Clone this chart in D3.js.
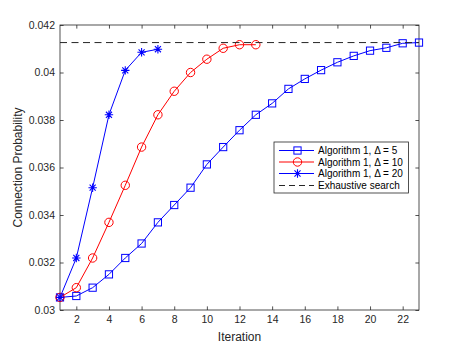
<!DOCTYPE html>
<html><head><meta charset="utf-8">
<script src="https://cdn.jsdelivr.net/npm/d3@7"></script>
<style>body{margin:0;background:#fff}svg{display:block}text{font-family:"Liberation Sans",Arial,sans-serif}</style>
</head><body>
<script>
const iter5 = d3.range(1, 24);
const prob5 = [0.03053,0.03059,0.03094,0.0315,0.03219,0.0328,0.03369,0.03442,0.03515,0.03613,0.03686,0.03757,0.03822,0.0387,0.03931,0.03973,0.0401,0.04043,0.0407,0.04092,0.04104,0.04123,0.04126];
const iter10 = d3.range(1, 14);
const prob10 = [0.03053,0.03094,0.03219,0.03369,0.03525,0.03686,0.03822,0.03921,0.04,0.04056,0.04102,0.04117,0.04117];
const iter20 = d3.range(1, 8);
const prob20 = [0.03053,0.03219,0.03515,0.03822,0.04009,0.04085,0.04098];
const exhaustive = 0.04126;
const xTicks = [2,4,6,8,10,12,14,16,18,20,22];
const yTicks = [0.03,0.032,0.034,0.036,0.038,0.04,0.042];
const legendLabels = ["Algorithm 1, \u0394 = 5","Algorithm 1, \u0394 = 10","Algorithm 1, \u0394 = 20","Exhaustive search"];

const W = 463, H = 348;
const L = 60, R = 419, T = 25, B = 310;
const axisColor = "#262626";
const svg = d3.select("body").append("svg").attr("width", W).attr("height", H);

const x = d3.scaleLinear().domain([1, 23]).range([L, R]);
const y = d3.scaleLinear().domain([0.03, 0.042]).range([B, T]);

svg.append("rect").attr("x", L).attr("y", T).attr("width", R - L).attr("height", B - T).attr("fill", "#fff");

// axes
const tl = 3.6;
const gx = svg.append("g").attr("transform", `translate(0,${B})`)
  .call(d3.axisBottom(x).tickValues(xTicks).tickSize(-tl).tickPadding(6).tickFormat(d3.format("d")));
const gxt = svg.append("g").attr("transform", `translate(0,${T})`)
  .call(d3.axisTop(x).tickValues(xTicks).tickSize(-tl).tickFormat(""));
const gy = svg.append("g").attr("transform", `translate(${L},0)`)
  .call(d3.axisLeft(y).tickValues(yTicks).tickSize(-tl).tickPadding(5).tickFormat(d => d3.format("")(+d.toFixed(3))));
const gyr = svg.append("g").attr("transform", `translate(${R},0)`)
  .call(d3.axisRight(y).tickValues(yTicks).tickSize(-tl).tickFormat(""));
[gx, gxt, gy, gyr].forEach(g => {
  g.select(".domain").remove();
  g.selectAll("line").attr("stroke", axisColor).attr("stroke-width", 0.8);
  g.selectAll("text").attr("fill", axisColor).attr("font-size", 10.5).attr("font-family", '"Liberation Sans",Arial,sans-serif');
});
gx.selectAll("text").attr("dy", "0.71em");
svg.append("rect").attr("x", L).attr("y", T).attr("width", R - L).attr("height", B - T)
  .attr("fill", "none").attr("stroke", axisColor).attr("stroke-width", 0.8);

// labels
svg.append("text").attr("x", (L + R) / 2).attr("y", 341).attr("text-anchor", "middle")
  .attr("font-size", 12).attr("fill", axisColor).text("Iteration");
svg.append("text").attr("transform", `translate(22,${(T + B) / 2}) rotate(-90)`).attr("text-anchor", "middle")
  .attr("font-size", 12).attr("fill", axisColor).text("Connection Probability");

const line = d3.line().x(d => x(d[0])).y(d => y(d[1]));

function drawMarker(g, type, cx, cy, color) {
  if (type === "square") {
    g.append("rect").attr("x", cx - 3.6).attr("y", cy - 3.6).attr("width", 7.2).attr("height", 7.2)
      .attr("fill", "none").attr("stroke", color).attr("stroke-width", 1);
  } else if (type === "circle") {
    g.append("circle").attr("cx", cx).attr("cy", cy).attr("r", 4.2)
      .attr("fill", "none").attr("stroke", color).attr("stroke-width", 1);
  } else if (type === "star") {
    const r = 4.2;
    const p = `M${cx - r},${cy}L${cx + r},${cy}M${cx},${cy - r}L${cx},${cy + r}` +
      `M${cx - r * 0.72},${cy - r * 0.72}L${cx + r * 0.72},${cy + r * 0.72}M${cx - r * 0.72},${cy + r * 0.72}L${cx + r * 0.72},${cy - r * 0.72}`;
    g.append("path").attr("d", p).attr("stroke", color).attr("stroke-width", 1.1).attr("fill", "none");
  }
}

const series = [
  { it: iter5, p: prob5, color: "#0000ff", marker: "square" },
  { it: iter10, p: prob10, color: "#ff0000", marker: "circle" },
  { it: iter20, p: prob20, color: "#0000ff", marker: "star" }
];
series.forEach(s => {
  const data = s.it.map((d, i) => [d, s.p[i]]);
  const g = svg.append("g");
  g.append("path").attr("d", line(data)).attr("fill", "none").attr("stroke", s.color).attr("stroke-width", 1);
  data.forEach(d => drawMarker(g, s.marker, x(d[0]), y(d[1]), s.color));
});

svg.append("line").attr("x1", x(1)).attr("x2", x(23)).attr("y1", y(exhaustive)).attr("y2", y(exhaustive))
  .attr("stroke", axisColor).attr("stroke-width", 1).attr("stroke-dasharray", "7,4.5");

// legend
const lg = svg.append("g");
lg.append("rect").attr("x", 274).attr("y", 142).attr("width", 134.5).attr("height", 51)
  .attr("fill", "#fff").attr("stroke", axisColor).attr("stroke-width", 0.8);
const rowsY = [150.5, 162, 173.5, 185.5];
const styles = [
  { color: "#0000ff", marker: "square" },
  { color: "#ff0000", marker: "circle" },
  { color: "#0000ff", marker: "star" },
  { color: axisColor, marker: null, dash: "6,4" }
];
legendLabels.forEach((lab, i) => {
  const yy = rowsY[i];
  const st = styles[i];
  lg.append("line").attr("x1", 279).attr("x2", 314).attr("y1", yy).attr("y2", yy)
    .attr("stroke", st.color).attr("stroke-width", 1).attr("stroke-dasharray", st.dash || null);
  if (st.marker) drawMarker(lg, st.marker, 297.5, yy, st.color);
  lg.append("text").attr("x", 318).attr("y", yy).attr("dy", "0.35em").attr("font-size", 10)
    .attr("fill", "#000").text(lab);
});
</script>
</body></html>
